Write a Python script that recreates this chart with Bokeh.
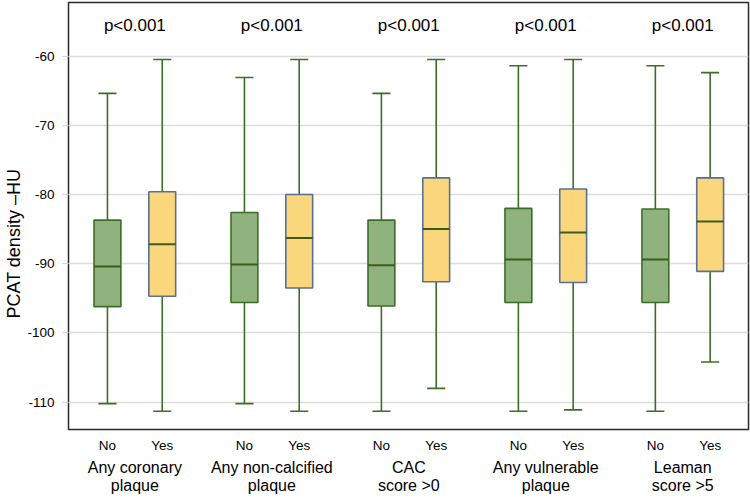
from bokeh.plotting import figure
from bokeh.models import FixedTicker, Label, ColumnDataSource, Range1d, LinearAxis, Title
from bokeh.embed import file_html
from bokeh.resources import INLINE

# ---------------- data ----------------
group_labels = ["Any coronary\nplaque", "Any non-calcified\nplaque", "CAC\nscore >0",
                "Any vulnerable\nplaque", "Leaman\nscore >5"]
sub_labels = ["No", "Yes"]
p_values = ["p<0.001", "p<0.001", "p<0.001", "p<0.001", "p<0.001"]
y_ticks = [-110, -100, -90, -80, -70, -60]
y_title = "PCAT density \u2013HU"

no_low = [-110.2, -110.2, -111.3, -111.3, -111.3]
no_q1 = [-96.2, -95.6, -96.1, -95.6, -95.6]
no_med = [-90.4, -90.1, -90.2, -89.4, -89.4]
no_q3 = [-83.7, -82.6, -83.7, -82.0, -82.1]
no_high = [-65.4, -63.1, -65.4, -61.4, -61.4]

yes_low = [-111.3, -111.3, -108.0, -111.1, -104.2]
yes_q1 = [-94.7, -93.5, -92.6, -92.7, -91.1]
yes_med = [-87.2, -86.3, -85.0, -85.5, -83.9]
yes_q3 = [-79.6, -80.0, -77.6, -79.2, -77.6]
yes_high = [-60.5, -60.5, -60.5, -60.5, -62.4]

# ---------------- layout ----------------
GROUP_STEP = 2.5
FONT = "Liberation Sans"
GREEN_FILL = "#8fb27f"
GREEN_LINE = "#3c6e27"
YELLOW_FILL = "#fad77c"
YELLOW_LINE = "#5a6f96"
MED_DARK = "#3b5c1c"

n = len(group_labels)
no_x = [GROUP_STEP * i for i in range(n)]
yes_x = [GROUP_STEP * i + 1 for i in range(n)]
grp_x = [GROUP_STEP * i + 0.5 for i in range(n)]

p = figure(width=750, height=503, output_backend="svg", toolbar_location=None,
           x_range=Range1d(-0.711, 11.70), y_range=Range1d(-113.94, -52.27),
           min_border_left=67, min_border_right=2, min_border_top=2,
           min_border_bottom=74)
p.outline_line_color = "#2b2b2b"
p.outline_line_width = 1.5
p.background_fill_color = "white"

# x axis: No / Yes
p.xaxis.ticker = FixedTicker(ticks=no_x + yes_x)
p.xaxis.major_label_overrides = {**{v: sub_labels[0] for v in no_x},
                                 **{v: sub_labels[1] for v in yes_x}}
for ax in p.xaxis:
    ax.major_tick_out = 0
    ax.major_tick_in = 0
    ax.minor_tick_line_color = None
    ax.axis_line_color = None
    ax.major_label_text_font = FONT
    ax.major_label_text_font_size = "13.5px"
    ax.major_label_text_color = "black"
    ax.major_label_standoff = 8

# second x axis: group names
gax = LinearAxis(ticker=FixedTicker(ticks=grp_x),
                 major_label_overrides={v: t for v, t in zip(grp_x, group_labels)})
gax.major_tick_out = 0
gax.major_tick_in = 0
gax.minor_tick_line_color = None
gax.axis_line_color = None
gax.major_label_text_font = FONT
gax.major_label_text_font_size = "16px"
gax.major_label_text_color = "black"
gax.major_label_standoff = 3
gax.major_label_text_line_height = 1.1
p.add_layout(gax, "below")

# y axis
p.yaxis.ticker = FixedTicker(ticks=y_ticks)
p.yaxis.major_label_overrides = {v: str(v) for v in y_ticks}
p.yaxis.major_tick_out = 6
p.yaxis.major_tick_in = 0
p.yaxis.major_tick_line_color = "#d5d5d5"
p.yaxis.minor_tick_line_color = None
p.yaxis.axis_line_color = None
p.yaxis.major_label_text_font = FONT
p.yaxis.major_label_text_font_size = "13.5px"
p.yaxis.major_label_text_color = "black"
p.yaxis.major_label_standoff = 8

# y title placed as a side title so it can sit below the frame centre
ytitle = Title(text=y_title, align="left", offset=111, standoff=2,
               text_font=FONT, text_font_size="18px", text_font_style="normal",
               text_color="black")
p.add_layout(ytitle, "left")

p.xgrid.grid_line_color = None
p.ygrid.ticker = FixedTicker(ticks=y_ticks)
p.ygrid.grid_line_color = "#dcdcdc"
p.ygrid.grid_line_width = 1.3

BOX_W = 0.49
CAP_W = 0.33


def draw(xs, low, q1, med, q3, high, fill, outline):
    src = ColumnDataSource(dict(x=xs, low=low, q1=q1, med=med, q3=q3, high=high,
                                cl=[x - CAP_W / 2 for x in xs],
                                cr=[x + CAP_W / 2 for x in xs],
                                bl=[x - BOX_W / 2 for x in xs],
                                br=[x + BOX_W / 2 for x in xs]))
    p.segment(x0="x", y0="q3", x1="x", y1="high", source=src, line_color=GREEN_LINE, line_width=1.6)
    p.segment(x0="x", y0="low", x1="x", y1="q1", source=src, line_color=GREEN_LINE, line_width=1.6)
    p.segment(x0="cl", y0="high", x1="cr", y1="high", source=src, line_color=GREEN_LINE, line_width=1.6)
    p.segment(x0="cl", y0="low", x1="cr", y1="low", source=src, line_color=GREEN_LINE, line_width=1.6)
    p.vbar(x="x", width=BOX_W, bottom="q1", top="q3", source=src,
           fill_color=fill, line_color=outline, line_width=1.6)
    p.segment(x0="bl", y0="med", x1="br", y1="med", source=src, line_color=MED_DARK, line_width=2)


draw(no_x, no_low, no_q1, no_med, no_q3, no_high, GREEN_FILL, GREEN_LINE)
draw(yes_x, yes_low, yes_q1, yes_med, yes_q3, yes_high, YELLOW_FILL, YELLOW_LINE)

# p-values
for gx, pv in zip(grp_x, p_values):
    p.add_layout(Label(x=gx, y=-55.6, text=pv, text_align="center", text_baseline="middle",
                       text_font=FONT, text_font_size="17px", text_color="black"))

open("out.html", "w").write(file_html(p, INLINE))
